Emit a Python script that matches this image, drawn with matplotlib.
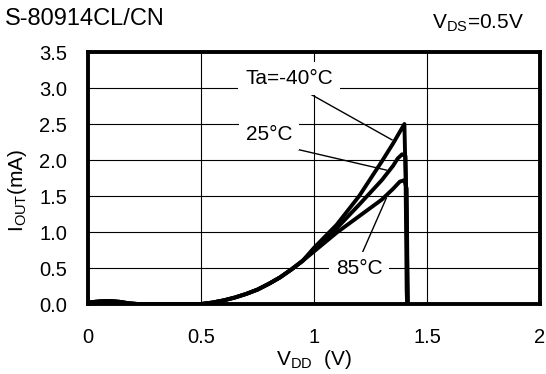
import numpy as np
import matplotlib.pyplot as plt

plt.rcParams['font.family'] = ['Liberation Sans', 'DejaVu Sans']

# common low part of the curves
vdd_low = [0.0, 0.03, 0.07, 0.1, 0.14, 0.18, 0.22, 0.5, 0.55, 0.6, 0.65, 0.7, 0.75, 0.8, 0.85, 0.9, 0.95]
iout_low = [0.02, 0.03, 0.04, 0.04, 0.03, 0.01, 0.0, 0.0, 0.02, 0.05, 0.09, 0.14, 0.2, 0.28, 0.37, 0.48, 0.6]

# upper part, per temperature
vdd_m40 = [1.0, 1.1, 1.2, 1.3, 1.35, 1.4, 1.405, 1.408, 1.41, 1.412]
iout_m40 = [0.78, 1.1, 1.5, 1.98, 2.23, 2.5, 1.8, 0.9, 0.2, 0.0]

vdd_25 = [1.0, 1.1, 1.2, 1.3, 1.35, 1.37, 1.39, 1.405, 1.41, 1.413, 1.415]
iout_25 = [0.76, 1.05, 1.38, 1.72, 1.92, 2.02, 2.08, 2.05, 1.2, 0.3, 0.0]

vdd_85 = [1.0, 1.1, 1.2, 1.3, 1.35, 1.38, 1.4, 1.41, 1.413, 1.415]
iout_85 = [0.73, 0.99, 1.22, 1.45, 1.6, 1.7, 1.72, 1.6, 0.6, 0.0]

fig = plt.figure(figsize=(5.46, 3.74), dpi=100)
ax = fig.add_axes([88 / 546, 70 / 374, 452 / 546, 252 / 374])

for vx, iy in [(vdd_m40, iout_m40), (vdd_25, iout_25), (vdd_85, iout_85)]:
    ax.plot(vdd_low + vx, iout_low + iy, color='black', lw=2.8, solid_capstyle='round', zorder=3)

ax.set_xlim(0, 2)
ax.set_ylim(0, 3.5)
ax.set_xticks([0, 0.5, 1, 1.5, 2])
ax.set_xticklabels(['0', '0.5', '1', '1.5', '2'])
ax.set_yticks(np.arange(0, 3.51, 0.5))
ax.set_yticklabels(['%.1f' % v for v in np.arange(0, 3.51, 0.5)])
ax.tick_params(length=0, labelsize=14.5)
ax.tick_params(axis='y', pad=15)
ax.tick_params(axis='x', pad=17)
ax.grid(True, color='black', lw=0.8)
for s in ax.spines.values():
    s.set_linewidth(2.8)

# leader lines and labels
ax.plot([0.953, 1.345], [2.97, 2.28], color='black', lw=1, zorder=2)
ax.plot([0.896, 1.32], [2.17, 1.86], color='black', lw=1, zorder=2)
ax.plot([1.215, 1.32], [0.72, 1.47], color='black', lw=1, zorder=2)
bb = dict(facecolor='white', edgecolor='none', pad=5)
ax.text(0.89, 3.13, 'Ta=-40°C', ha='center', va='center', fontsize=15, bbox=bb, zorder=4)
ax.text(0.80, 2.36, '25°C', ha='center', va='center', fontsize=15, bbox=bb, zorder=4)
ax.text(1.20, 0.5, '85°C', ha='center', va='center', fontsize=15, bbox=bb, zorder=4)

ax.set_xlabel('V$_{\\mathregular{DD}}$  (V)', fontsize=15)
ax.xaxis.set_label_coords(0.5, -0.175)
ax.set_ylabel('I$_{\\mathregular{OUT}}$(mA)', fontsize=15)
ax.yaxis.set_label_coords(-0.13, 0.45)

fig.text(5 / 546, 1 - 19 / 374, 'S-80914CL/CN', fontsize=17, va='center')
fig.text(524 / 546, 1 - 23 / 374, 'V$_{\\mathregular{DS}}$=0.5V', fontsize=15, ha='right', va='center')

fig.savefig('out.png', dpi=100)
